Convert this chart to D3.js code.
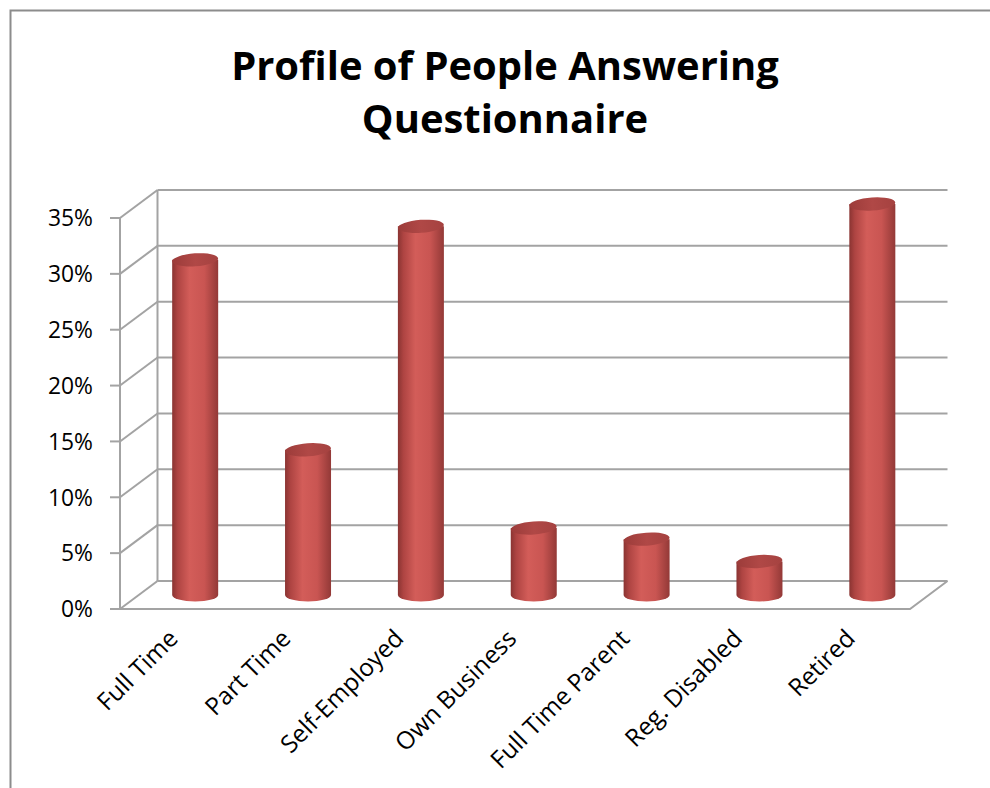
<!DOCTYPE html>
<html>
<head>
<meta charset="utf-8">
<script src="https://cdn.jsdelivr.net/npm/d3@7"></script>
<style>
  html, body { margin: 0; padding: 0; background: #fff; }
  svg { display: block; }
</style>
</head>
<body>
<svg id="chart" width="990" height="788"></svg>
<script>
// chart data
const categories = ["Full Time", "Part Time", "Self-Employed", "Own Business", "Full Time Parent", "Reg. Disabled", "Retired"];
const values = [0.30, 0.13, 0.33, 0.06, 0.05, 0.03, 0.35];
const yTicks = [0, 0.05, 0.10, 0.15, 0.20, 0.25, 0.30, 0.35];
const titleLines = ["Profile of People Answering", "Questionnaire"];

const width = 990, height = 788;
const svg = d3.select("#chart");

// 3d depth offset of the back wall
const depthX = 37.5, depthY = -28;

const x = d3.scaleBand().domain(categories).range([120, 910]);
const y = d3.scaleLinear().domain([0, 0.35]).range([609, 218]);

const gridColor = "#a3a3a3";
const font = "'Open Sans', 'DejaVu Sans', sans-serif";

// scale a text selection so that its first node gets the wanted length
function fitText(sel, base, target) {
    const len = sel.node().getComputedTextLength();
    sel.attr("font-size", base * target / len);
}

// outer frame
svg.append("rect")
    .attr("x", 10.5).attr("y", 10.5)
    .attr("width", 990).attr("height", 800)
    .attr("fill", "none").attr("stroke", "#8c8c8c").attr("stroke-width", 2);

// title, sized to match the original width
const title = svg.append("g");
titleLines.forEach((t, i) => {
    title.append("text")
        .attr("x", 505).attr("y", 80 + i * 53)
        .attr("text-anchor", "middle")
        .attr("font-family", font).attr("font-weight", "bold")
        .attr("font-size", 40)
        .attr("fill", "#000")
        .text(t);
});
fitText(title.selectAll("text"), 40, 548);

// gridlines: back wall + side wall diagonals
const grid = svg.append("g");
const backLeft = x.range()[0] + depthX;
const backRight = x.range()[1] + depthX;

grid.selectAll(".back")
    .data(yTicks)
    .enter().append("line")
    .attr("x1", backLeft).attr("x2", backRight)
    .attr("y1", d => y(d) + depthY).attr("y2", d => y(d) + depthY)
    .attr("stroke", gridColor).attr("stroke-width", 2);

grid.selectAll(".side")
    .data(yTicks)
    .enter().append("line")
    .attr("x1", x.range()[0]).attr("y1", d => y(d))
    .attr("x2", backLeft).attr("y2", d => y(d) + depthY)
    .attr("stroke", gridColor).attr("stroke-width", 2);

// back wall left edge
grid.append("line")
    .attr("x1", backLeft).attr("x2", backLeft)
    .attr("y1", y(0) + depthY).attr("y2", y(0.35) + depthY)
    .attr("stroke", gridColor).attr("stroke-width", 2);

// floor outline
grid.append("path")
    .attr("d", `M${x.range()[0]},${y(0)} L${x.range()[1]},${y(0)} L${backRight},${y(0) + depthY}`)
    .attr("fill", "none").attr("stroke", gridColor).attr("stroke-width", 2);

// front y axis line + ticks
grid.append("line")
    .attr("x1", x.range()[0]).attr("x2", x.range()[0])
    .attr("y1", y(0)).attr("y2", y(0.35))
    .attr("stroke", gridColor).attr("stroke-width", 2);

grid.selectAll(".tick")
    .data(yTicks)
    .enter().append("line")
    .attr("x1", x.range()[0] - 10).attr("x2", x.range()[0])
    .attr("y1", d => y(d)).attr("y2", d => y(d))
    .attr("stroke", gridColor).attr("stroke-width", 2);

// y labels
const yLabels = svg.append("g").selectAll("text")
    .data(yTicks.slice().reverse())
    .enter().append("text")
    .attr("x", 93).attr("y", d => y(d))
    .attr("dy", "0.36em")
    .attr("text-anchor", "end")
    .attr("font-family", font).attr("font-size", 20)
    .attr("fill", "#000")
    .text(d3.format(".0%"));
fitText(yLabels, 20, 45);   // "35%" is about 45px wide in the original

// cylinder gradients
const defs = svg.append("defs");
const side = defs.append("linearGradient").attr("id", "cylSide")
    .attr("x1", "0%").attr("x2", "100%").attr("y1", "0%").attr("y2", "0%");
[["0%", "#8a3432"], ["12%", "#ae4442"], ["38%", "#d35d59"], ["70%", "#c95552"], ["100%", "#933937"]]
    .forEach(s => side.append("stop").attr("offset", s[0]).attr("stop-color", s[1]));

const topGrad = defs.append("linearGradient").attr("id", "cylTop")
    .attr("x1", "0%").attr("x2", "100%").attr("y1", "0%").attr("y2", "0%");
[["0%", "#9c3c3a"], ["50%", "#b04846"], ["100%", "#a54240"]]
    .forEach(s => topGrad.append("stop").attr("offset", s[0]).attr("stop-color", s[1]));

// bars as cylinders, placed at mid depth
const r = 23, ry = 6.5;
const bars = svg.append("g").selectAll("g")
    .data(categories.map((c, i) => ({ cat: c, v: values[i] })))
    .enter().append("g")
    .attr("transform", d => `translate(${x(d.cat) + x.bandwidth() / 2 + depthX / 2},${depthY / 2})`);

bars.append("path")
    .attr("d", d => {
        const y0 = y(0), yt = y(d.v);
        return `M${-r},${yt} L${-r},${y0} A${r},${ry} 0 0 0 ${r},${y0} L${r},${yt} Z`;
    })
    .attr("fill", "url(#cylSide)");

bars.append("ellipse")
    .attr("cx", 0).attr("cy", d => y(d.v))
    .attr("rx", r).attr("ry", ry)
    .attr("transform", d => `rotate(-4,0,${y(d.v)})`)
    .attr("fill", "url(#cylTop)");

// x labels rotated 45 degrees
const xLabels = svg.append("g").selectAll("text")
    .data(categories)
    .enter().append("text")
    .attr("transform", d => `translate(${x(d) + x.bandwidth() / 2 + 3},${y(0) + 31}) rotate(-45)`)
    .attr("text-anchor", "end")
    .attr("font-family", font).attr("font-size", 20)
    .attr("fill", "#000")
    .text(d => d);
// "Self-Employed" runs about 162px along its slant in the original
const seNode = xLabels.filter(d => d === "Self-Employed").node();
xLabels.attr("font-size", 20 * 162 / seNode.getComputedTextLength());
</script>
</body>
</html>
